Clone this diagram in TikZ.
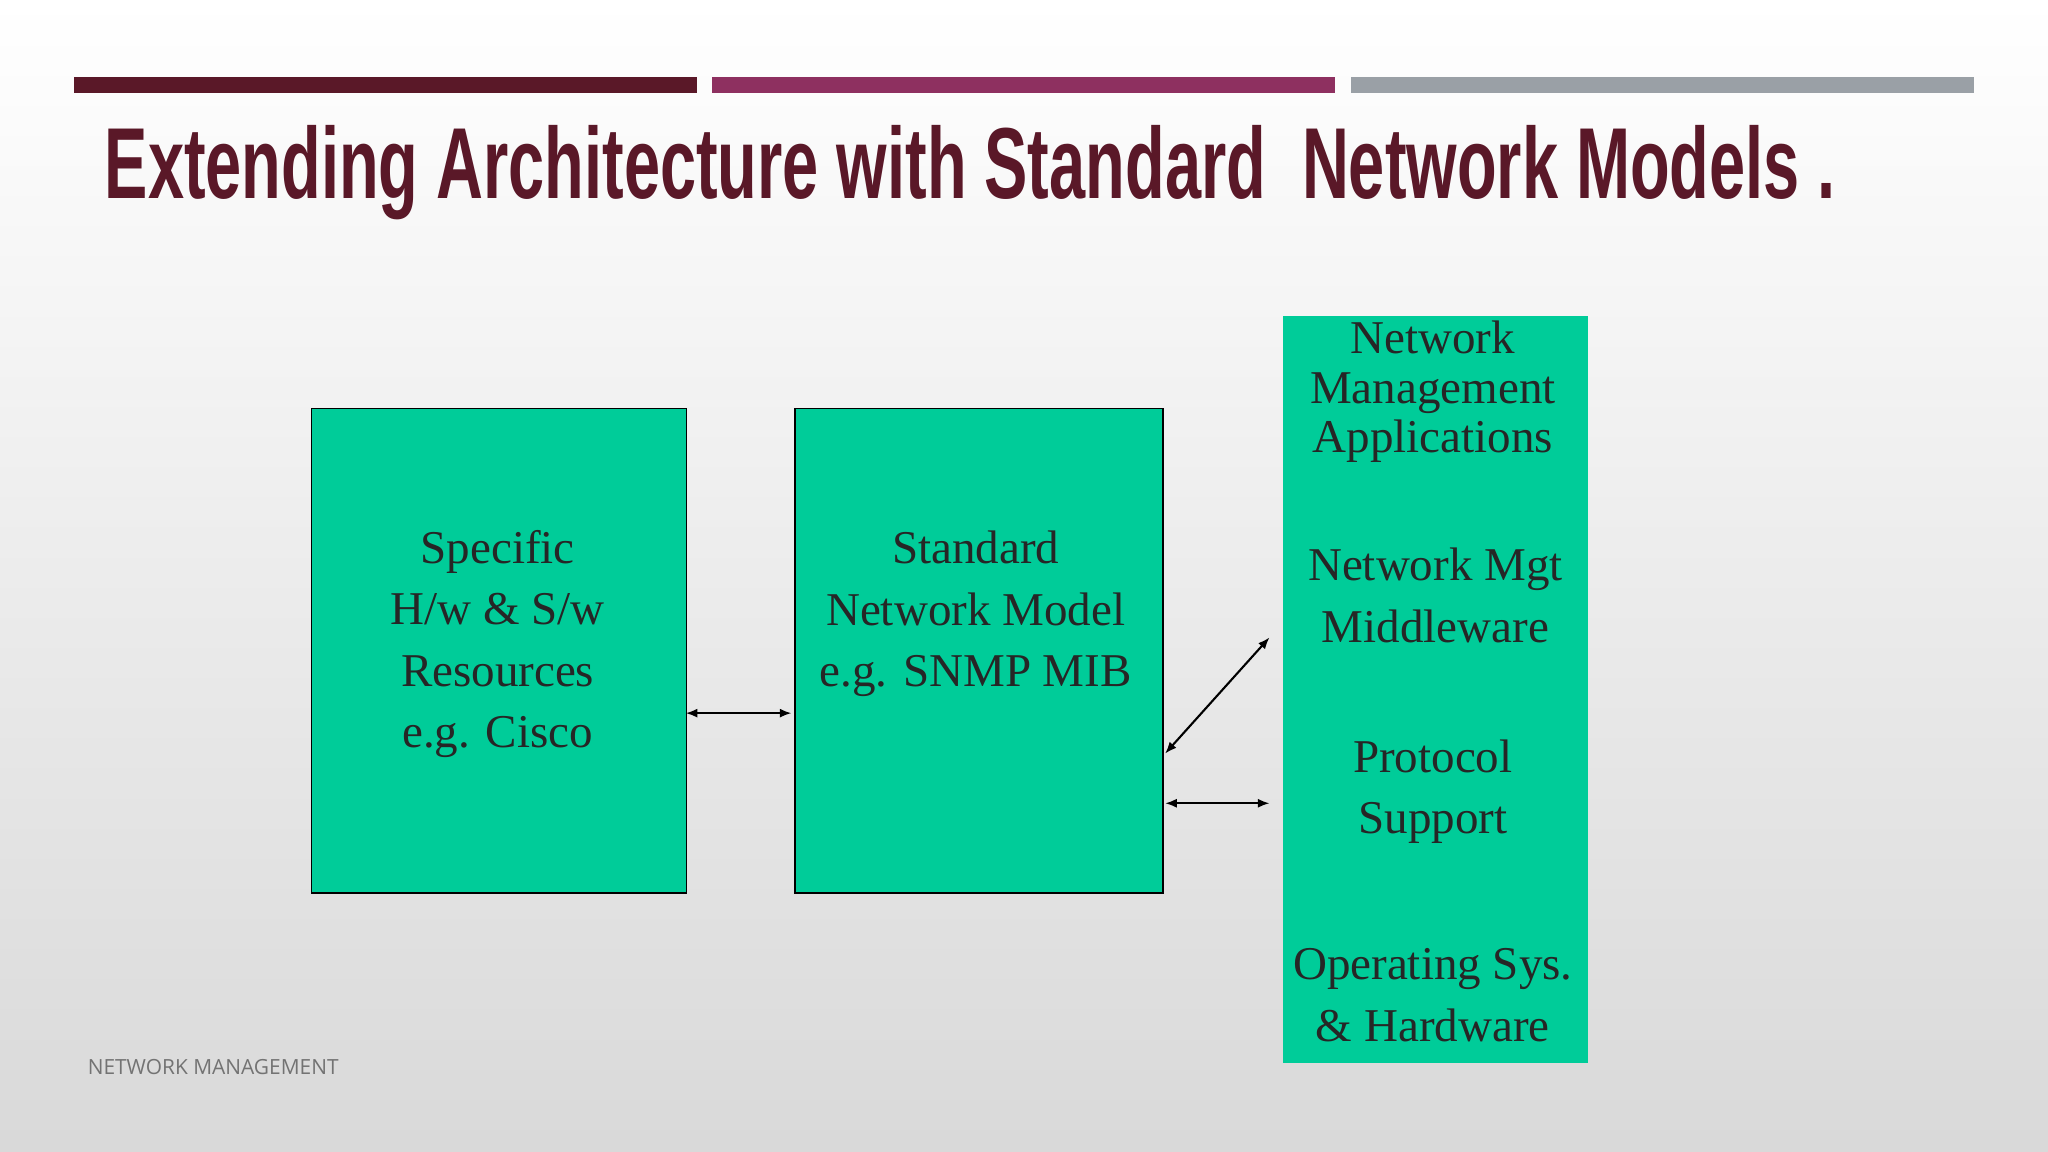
\documentclass[tikz,border=0pt]{standalone}
\usepackage{fontspec}
\setmainfont{Liberation Serif}
\newfontfamily\titlefont{Liberation Sans}
\newfontfamily\footfont{Open Sans}
\usetikzlibrary{arrows.meta}
\definecolor{maroon}{HTML}{5A1828}
\definecolor{magn}{HTML}{8E3060}
\definecolor{greyb}{HTML}{9AA0A6}
\definecolor{boxg}{HTML}{00CC99}
\begin{document}
\begin{tikzpicture}[x=1pt,y=-1pt,
  box/.style={draw=black,line width=1.2pt,fill=boxg,anchor=north west,inner sep=0pt},
  lbl/.style={align=center,font=\fontsize{36}{47}\selectfont,text=black!85},
  arr/.style={{Latex[length=9pt,width=7pt]}-{Latex[length=9pt,width=7pt]},line width=1.6pt}]
\shade[top color=white,bottom color=black!15] (0,0) rectangle (1568,882);
\useasboundingbox (0,0) rectangle (1568,882);
\fill[maroon] (57,59) rectangle (534,71);
\fill[magn] (545,59) rectangle (1022,71);
\fill[greyb] (1034,59) rectangle (1511,71);
\node[anchor=west,inner sep=0pt,text=maroon] (title) at (80,132) {\resizebox{1325pt}{56pt}{\titlefont\bfseries Extending Architecture with Standard\ \ Network Models .}};
\node[box,minimum width=287pt,minimum height=371pt] (b1) at (238,312) {};
\node[box,minimum width=282pt,minimum height=371pt] (b2) at (608,312) {};
\fill[boxg] (982,242) rectangle (1216,814);
\coordinate (b3) at (982,242);
\node[lbl] (t1) at (381,493) {Specific\\H/w \& S/w\\Resources\\e.g. Cisco};
\node[lbl] (t2) at (747,470) {Standard\\Network Model\\e.g. SNMP MIB};
\node[lbl,font=\fontsize{36}{38}\selectfont] (r1) at (1097,300) {Network\\Management\\Applications};
\node[lbl] (r2) at (1099,456) {Network Mgt\\Middleware};
\node[lbl] (r3) at (1097,606) {Protocol\\Support};
\node[lbl] (r4) at (1097,762) {Operating Sys.\\\& Hardware};
\coordinate (a1) at (525,546); \coordinate (a2) at (606,546);
\coordinate (c1) at (892,577); \coordinate (c2) at (972,488);
\coordinate (d1) at (892,615); \coordinate (d2) at (972,615);
\draw[arr] (a1) -- (a2);
\draw[arr] (c1) -- (c2);
\draw[arr] (d1) -- (d2);
\node[anchor=west,inner sep=0pt,text=black!55,font=\footfont\fontsize{16}{18}\selectfont] (foot) at (67,817) {NETWORK MANAGEMENT};
\end{tikzpicture}
\end{document}
